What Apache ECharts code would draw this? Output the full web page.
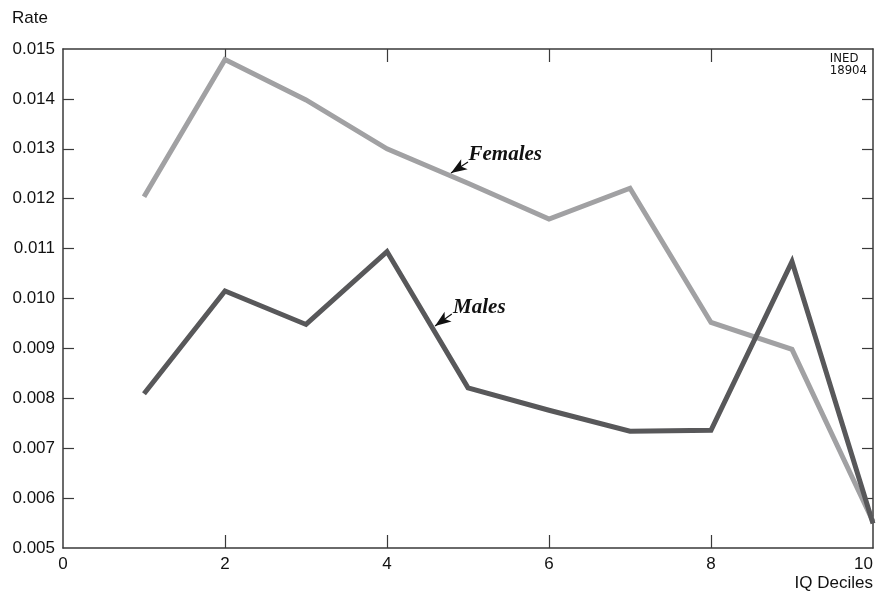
<!DOCTYPE html>
<html>
<head>
<meta charset="utf-8">
<script src="https://cdn.jsdelivr.net/npm/echarts@6/dist/echarts.min.js"></script>
<style>
html,body{margin:0;padding:0;background:#fff;}
#chart{width:877px;height:597px;}
</style>
</head>
<body>
<div id="chart"></div>
<script>
// Data
var deciles = [1, 2, 3, 4, 5, 6, 7, 8, 9, 10];
var females = [0.01204, 0.01479, 0.01398, 0.01300, 0.01231, 0.01159, 0.01221, 0.00952, 0.00898, 0.00553];
var males   = [0.00809, 0.01015, 0.00948, 0.01094, 0.00821, 0.00776, 0.00734, 0.00736, 0.01074, 0.00549];
var xTicks = [0, 2, 4, 6, 8, 10];
var yTicks = [0.005, 0.006, 0.007, 0.008, 0.009, 0.010, 0.011, 0.012, 0.013, 0.014, 0.015];

function pairs(xs, ys) { return xs.map(function (x, i) { return [x, ys[i]]; }); }

var axisColor = '#3a3a3a';
var labelFont = { color: '#111', fontSize: 17, fontFamily: 'Liberation Sans, Arial, sans-serif' };
var annFont = { color: '#111', fontSize: 21, fontStyle: 'italic', fontWeight: 'bold', fontFamily: 'Liberation Serif, Times New Roman, serif' };

function xAx(pos, showLabel) {
  return {
    type: 'value', position: pos, min: 0, max: 10, interval: 2,
    axisLine: { show: true, onZero: false, lineStyle: { color: axisColor, width: 1.5 } },
    axisTick: { show: true, inside: true, length: 13, lineStyle: { color: axisColor, width: 1.2 },
      customValues: xTicks.slice(1, -1) },
    axisLabel: Object.assign({ show: showLabel, margin: 8, hideOverlap: false, alignMaxLabel: 'right' }, labelFont, {
      customValues: xTicks, formatter: function (v) { return String(v); } }),
    splitLine: { show: false }
  };
}
function yAx(pos, showLabel) {
  return {
    type: 'value', position: pos, min: 0.005, max: 0.015, interval: 0.001,
    axisLine: { show: true, onZero: false, lineStyle: { color: axisColor, width: 1.5 } },
    axisTick: { show: true, inside: true, length: 11, lineStyle: { color: axisColor, width: 1.2 },
      customValues: yTicks.slice(1, -1) },
    axisLabel: Object.assign({ show: showLabel, margin: 8, hideOverlap: false }, labelFont, {
      customValues: yTicks, formatter: function (v) { return v.toFixed(3); } }),
    splitLine: { show: false }
  };
}

var chart = echarts.init(document.getElementById('chart'), null, { renderer: 'canvas' });
chart.setOption({
  animation: false,
  backgroundColor: '#fff',
  grid: { left: 63, right: 4, top: 49, bottom: 49, containLabel: false, outerBoundsMode: 'none' },
  xAxis: [xAx('bottom', true), xAx('top', false)],
  yAxis: [yAx('left', true), yAx('right', false)],
  graphic: [
    { type: 'text', left: 12, top: 10, style: { text: 'Rate', fill: '#111', fontSize: 17, fontFamily: 'Liberation Sans, Arial, sans-serif' } },
    { type: 'text', right: 4, top: 575, style: { text: 'IQ Deciles', fill: '#111', fontSize: 17, fontFamily: 'Liberation Sans, Arial, sans-serif' } },
    { type: 'text', right: 10, top: 52, style: { text: 'INED\n18904', align: 'right', fill: '#111', fontSize: 13, lineHeight: 12, fontFamily: 'Liberation Sans Narrow, DejaVu Sans Condensed, sans-serif' } }
  ],
  series: [
    {
      name: 'Females', type: 'line', data: pairs(deciles, females), symbol: 'none',
      lineStyle: { color: '#a1a1a3', width: 5, join: 'miter', cap: 'butt' },
      z: 2,
      markPoint: {
        silent: true, symbol: 'circle', symbolSize: 1, itemStyle: { color: 'rgba(0,0,0,0)' },
        label: Object.assign({ show: true, position: 'right', distance: 0, formatter: 'Females' }, annFont),
        data: [{ coord: [5.0, 0.012876] }]
      },
      markLine: {
        silent: true, symbol: ['none', 'arrow'], symbolSize: [9, 16],
        label: { show: false },
        lineStyle: { color: '#111', width: 1.2, type: 'solid' },
        data: [[{ coord: [5.0, 0.012735] }, { coord: [4.79, 0.012515] }]]
      }
    },
    {
      name: 'Males', type: 'line', data: pairs(deciles, males), symbol: 'none',
      lineStyle: { color: '#58585a', width: 5, join: 'miter', cap: 'butt' },
      z: 3,
      markPoint: {
        silent: true, symbol: 'circle', symbolSize: 1, itemStyle: { color: 'rgba(0,0,0,0)' },
        label: Object.assign({ show: true, position: 'right', distance: 0, formatter: 'Males' }, annFont),
        data: [{ coord: [4.81, 0.009816] }]
      },
      markLine: {
        silent: true, symbol: ['none', 'arrow'], symbolSize: [9, 16],
        label: { show: false },
        lineStyle: { color: '#111', width: 1.2, type: 'solid' },
        data: [[{ coord: [4.80, 0.009689] }, { coord: [4.593, 0.009449] }]]
      }
    }
  ]
});
</script>
</body>
</html>
